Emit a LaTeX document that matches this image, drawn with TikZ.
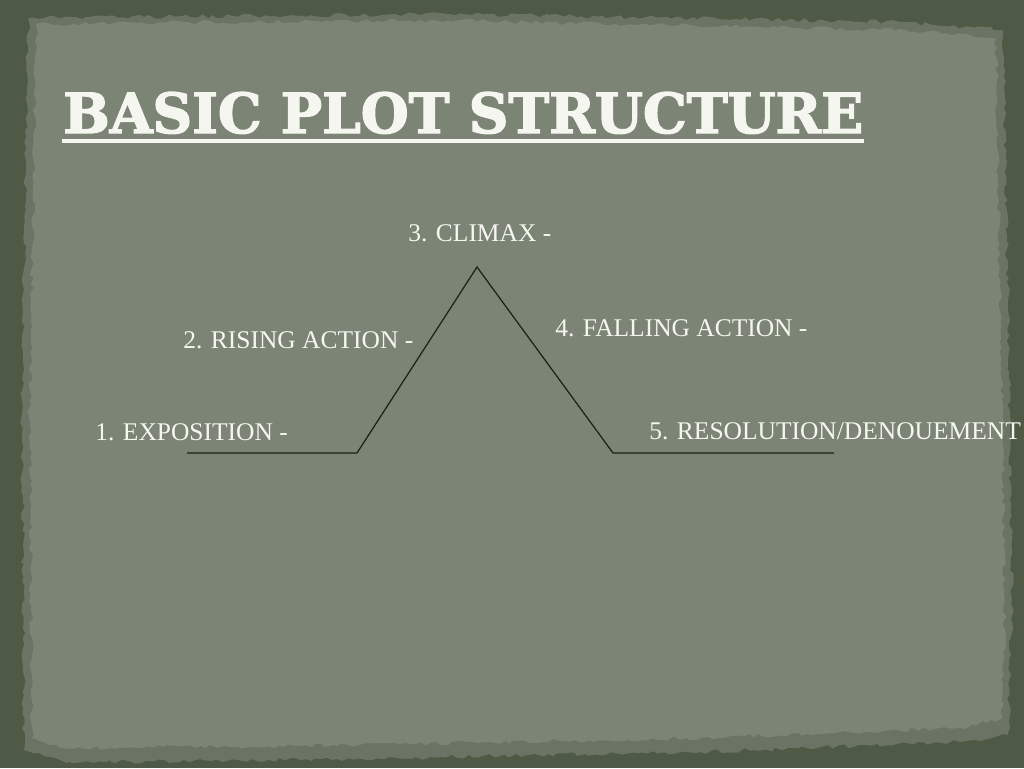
\documentclass[tikz,border=0pt]{standalone}
\usepackage{fontspec}
\usepackage{graphicx}
\setmainfont{Liberation Serif}
\newfontfamily\slabfont{DejaVu Serif}[BoldFeatures={FakeBold=2.5}]
\usepackage{tikz}
\usetikzlibrary{calc, decorations.pathmorphing}
\definecolor{boardgreen}{HTML}{4E5A46}
\definecolor{tearlayer}{HTML}{6B7464}
\definecolor{papergray}{HTML}{7B8475}
\definecolor{chalkwhite}{HTML}{F6F6F1}
\definecolor{plotink}{HTML}{1B2118}

\begin{document}
\begin{tikzpicture}[x=0.02cm, y=-0.02cm,
    lbl/.style={anchor=base west, inner sep=0pt, text=chalkwhite,
                font=\fontsize{14.5pt}{17pt}\selectfont},
    plotline/.style={plotink, line width=0.7pt, line join=miter},
    torn/.style={decorate, decoration={random steps, segment length=3pt, amplitude=1.2pt}}]
    \useasboundingbox (0,0) rectangle (1024,768);
    % board and torn paper
    \fill[boardgreen] (0,0) rectangle (1024,768);
    \pgfmathsetseed{7}
    \fill[tearlayer, torn] (28,18) -- (450,14) -- (900,22) -- (1003,30) -- (1008,300)
        -- (1012,600) -- (1008,735) -- (960,742) -- (700,752) -- (300,760) -- (70,762)
        -- (24,750) -- (22,400) -- cycle;
    \fill[papergray, torn] (36,24) -- (420,20) -- (905,30) -- (996,38) -- (1000,300)
        -- (1005,600) -- (1002,718) -- (960,728) -- (700,738) -- (300,746) -- (60,748)
        -- (32,738) -- (30,400) -- cycle;
    % title
    \node[anchor=base west, inner sep=0pt, text=chalkwhite] (t) at (63,133)
        {\resizebox{16cm}{0.82cm}{\slabfont\bfseries BASIC PLOT STRUCTURE}};
    \draw[chalkwhite, line width=2pt] ($(t.base west)+(-1,8)$) -- ($(t.base east)+(0,8)$);
    % labels
    \node[lbl] (e1) at (95,440) {1. EXPOSITION -};
    \node[lbl] (e2) at (183,348) {2. RISING ACTION -};
    \node[lbl] (e3) at (408,241) {3. CLIMAX -};
    \node[lbl] (e4) at (555,336) {4. FALLING ACTION -};
    \node[lbl] (e5) at (649,439) {5. RESOLUTION/DENOUEMENT};
    % plot line
    \coordinate (p1) at (187,453);
    \coordinate (p2) at (357,453);
    \coordinate (p3) at (477,267);
    \coordinate (p4) at (613,453);
    \coordinate (p5) at (834,453);
    \draw[plotline] (p1) -- (p2) -- (p3) -- (p4) -- (p5);
\end{tikzpicture}
\end{document}
